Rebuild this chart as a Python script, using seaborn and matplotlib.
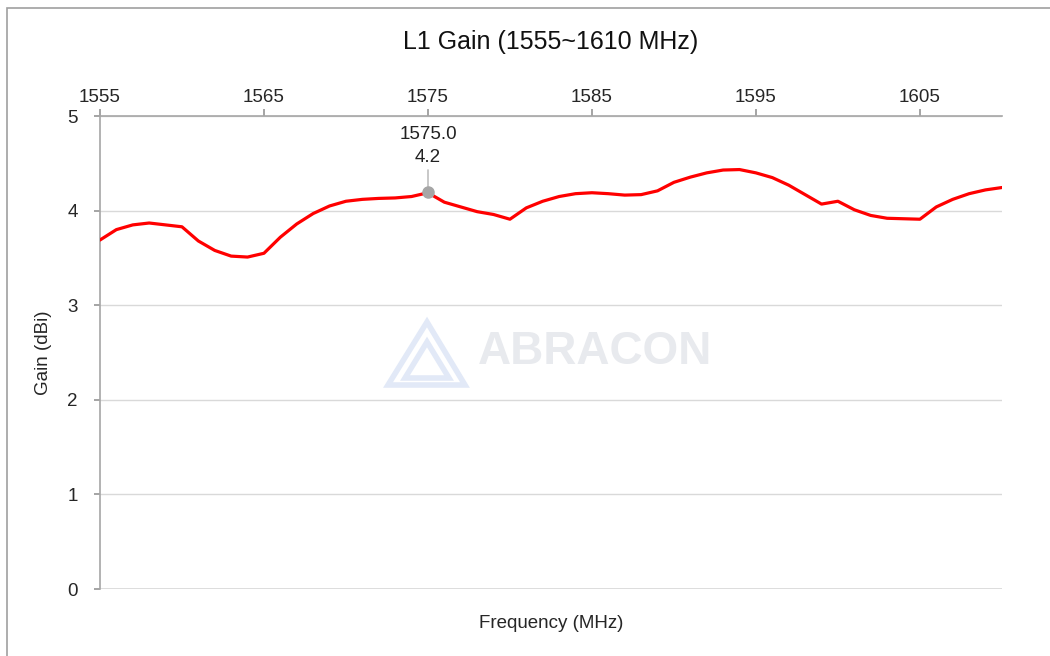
import pandas as pd
import seaborn as sns
import matplotlib.pyplot as plt
from matplotlib.patches import Rectangle, Polygon

# values
freq_mhz = list(range(1555, 1611))
gain_dbi = [3.69, 3.80, 3.85, 3.87, 3.85, 3.83, 3.68, 3.58, 3.52, 3.51,
            3.55, 3.72, 3.86, 3.97, 4.05, 4.10, 4.12, 4.13, 4.135, 4.15,
            4.19, 4.09, 4.04, 3.99, 3.96, 3.91, 4.03, 4.10, 4.15, 4.18,
            4.19, 4.18, 4.165, 4.17, 4.21, 4.30, 4.355, 4.40, 4.43, 4.435,
            4.40, 4.35, 4.27, 4.17, 4.07, 4.10, 4.01, 3.95, 3.92, 3.915,
            3.91, 4.04, 4.12, 4.18, 4.22, 4.245]
x_ticks = [1555, 1565, 1575, 1585, 1595, 1605]
y_ticks = [0, 1, 2, 3, 4, 5]
marker_freq = 1575.0
marker_gain = 4.2

df = pd.DataFrame({"Frequency": freq_mhz, "Gain": gain_dbi})

sns.set_theme(style="white")
plt.rcParams['font.family'] = ['Liberation Sans', 'DejaVu Sans']

fig = plt.figure(figsize=(10.5, 6.56), dpi=100)
ax = fig.add_axes([0.0952, 0.102, 0.8590, 0.721])

# figure border (Excel chart frame)
fig.patches.append(Rectangle((7 / 1050, -0.05), 1.2, 1 - 8 / 656 + 0.05,
                             transform=fig.transFigure, fill=False,
                             edgecolor='#a0a0a0', linewidth=1.2, zorder=0))

# watermark
fig.text(0.567, 0.463, "ABRACON", fontsize=33, fontweight='bold',
         color='#e8eaee', ha='center', va='center', zorder=0)
tri_outer = [(388 / 1050, 1 - 385 / 656), (427 / 1050, 1 - 322 / 656), (465 / 1050, 1 - 385 / 656)]
tri_inner = [(405 / 1050, 1 - 378 / 656), (427 / 1050, 1 - 342 / 656), (449 / 1050, 1 - 378 / 656)]
for tri in (tri_outer, tri_inner):
    fig.patches.append(Polygon(tri, closed=True, fill=False, edgecolor='#e2e9f7',
                               linewidth=4, transform=fig.transFigure, zorder=0))

sns.lineplot(data=df, x="Frequency", y="Gain", ax=ax, color='#ff0000',
             linewidth=2.3, zorder=3)

ax.set_xlim(1555, 1610)
ax.set_ylim(0, 5)
ax.set_xticks(x_ticks)
ax.set_yticks(y_ticks)
ax.xaxis.tick_top()
ax.xaxis.set_label_position('bottom')
ax.set_xlabel("Frequency (MHz)", fontsize=13.5, labelpad=19)
ax.set_ylabel("Gain (dBi)", fontsize=13.5, labelpad=11)
ax.tick_params(axis='x', labelsize=13.5, length=5, color='#999999', top=True,
               direction='out', pad=2)
ax.tick_params(axis='y', labelsize=13.5, length=4, color='#999999', left=True,
               direction='out', pad=12)
ax.grid(axis='y', color='#d9d9d9', linewidth=1)
ax.set_axisbelow(True)
for side in ('right', 'bottom'):
    ax.spines[side].set_visible(False)
ax.spines['top'].set_color('#a6a6a6')
ax.spines['left'].set_color('#a6a6a6')
ax.spines['top'].set_linewidth(1.2)
ax.spines['left'].set_linewidth(1.2)
ax.spines['top'].set_zorder(1)
ax.axhline(0, color='#d9d9d9', linewidth=1.2, zorder=0)
ax.set_title("L1 Gain (1555~1610 MHz)", fontsize=18, pad=48, color='#111111')

# data label on the 1575 MHz point
ax.plot([marker_freq, marker_freq], [marker_gain, 4.43], color='#bfbfbf',
        linewidth=1.2, zorder=4)
ax.plot(marker_freq, marker_gain, 'o', color='#a6a6a6', markersize=8, zorder=5)
ax.text(marker_freq, 4.47, "1575.0\n4.2", ha='center', va='bottom',
        fontsize=13.5, linespacing=1.45, color='#222222')

plt.savefig("out.png", dpi=100)
